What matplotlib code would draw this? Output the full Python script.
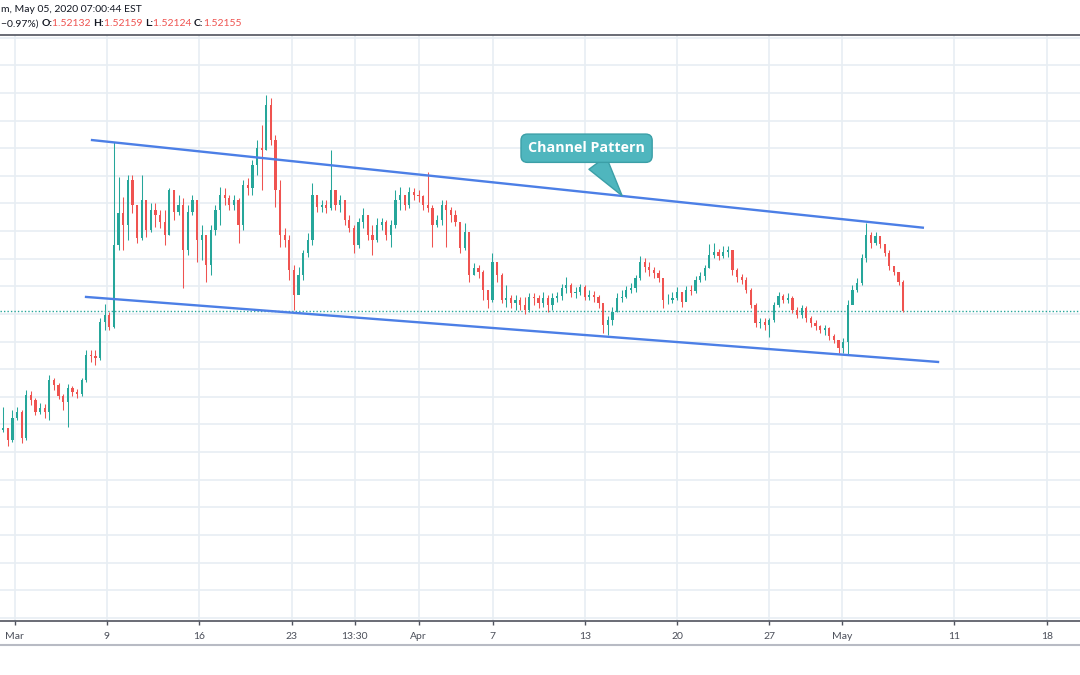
import matplotlib
matplotlib.use('Agg')
import matplotlib.pyplot as plt
import numpy as np
from matplotlib.lines import Line2D

# EURCAD 6h candles (open = previous close)
first_open = 1.5000
closes = [
    1.5004, 1.4982, 1.5022, 1.5033, 1.4986, 1.5063, 1.5054, 1.5033, 1.5040, 1.5033,
    1.5091, 1.5081, 1.5062, 1.5051, 1.5076, 1.5069, 1.5065, 1.5091, 1.5136, 1.5134,
    1.5130, 1.5195, 1.5208, 1.5186, 1.5335, 1.5393, 1.5371, 1.5452, 1.5407, 1.5348,
    1.5416, 1.5362, 1.5398, 1.5389, 1.5376, 1.5353, 1.5434, 1.5395, 1.5407, 1.5326,
    1.5395, 1.5416, 1.5344, 1.5353, 1.5299, 1.5362, 1.5398, 1.5425, 1.5420, 1.5407,
    1.5416, 1.5371, 1.5443, 1.5438, 1.5480, 1.5510, 1.5507, 1.5588, 1.5525, 1.5434,
    1.5353, 1.5344, 1.5290, 1.5244, 1.5281, 1.5320, 1.5344, 1.5425, 1.5404, 1.5407,
    1.5402, 1.5434, 1.5407, 1.5416, 1.5380, 1.5366, 1.5335, 1.5376, 1.5389, 1.5353,
    1.5344, 1.5371, 1.5376, 1.5353, 1.5371, 1.5416, 1.5425, 1.5407, 1.5431, 1.5425,
    1.5424, 1.5407, 1.5402, 1.5371, 1.5380, 1.5407, 1.5398, 1.5389, 1.5376, 1.5329,
    1.5358, 1.5281, 1.5293, 1.5286, 1.5253, 1.5235, 1.5304, 1.5281, 1.5235, 1.5239,
    1.5230, 1.5235, 1.5226, 1.5217, 1.5241, 1.5239, 1.5230, 1.5239, 1.5226, 1.5239,
    1.5243, 1.5257, 1.5262, 1.5248, 1.5250, 1.5259, 1.5241, 1.5244, 1.5241, 1.5230,
    1.5190, 1.5199, 1.5214, 1.5239, 1.5241, 1.5253, 1.5257, 1.5275, 1.5304, 1.5295,
    1.5290, 1.5284, 1.5275, 1.5235, 1.5235, 1.5239, 1.5250, 1.5232, 1.5253, 1.5252,
    1.5272, 1.5279, 1.5293, 1.5317, 1.5322, 1.5315, 1.5322, 1.5326, 1.5290, 1.5277,
    1.5272, 1.5253, 1.5226, 1.5194, 1.5195, 1.5190, 1.5199, 1.5226, 1.5243, 1.5235,
    1.5239, 1.5217, 1.5208, 1.5221, 1.5203, 1.5194, 1.5188, 1.5181, 1.5185, 1.5170,
    1.5163, 1.5148, 1.5159, 1.5226, 1.5253, 1.5266, 1.5311, 1.5353, 1.5338, 1.5351,
    1.5337, 1.5320, 1.5297, 1.5286, 1.5268, 1.52155]
highs = [
    1.5042, 1.5004, 1.5036, 1.5042, 1.5036, 1.5072, 1.5071, 1.5058, 1.5049, 1.5047,
    1.5100, 1.5094, 1.5085, 1.5065, 1.5083, 1.5080, 1.5074, 1.5094, 1.5145, 1.5145,
    1.5145, 1.5203, 1.5228, 1.5214, 1.5521, 1.5458, 1.5422, 1.5462, 1.5462, 1.5407,
    1.5462, 1.5416, 1.5411, 1.5411, 1.5398, 1.5398, 1.5438, 1.5434, 1.5425, 1.5420,
    1.5407, 1.5425, 1.5407, 1.5371, 1.5335, 1.5371, 1.5407, 1.5440, 1.5438, 1.5425,
    1.5425, 1.5420, 1.5452, 1.5456, 1.5489, 1.5525, 1.5552, 1.5606, 1.5601, 1.5534,
    1.5452, 1.5366, 1.5353, 1.5299, 1.5295, 1.5326, 1.5357, 1.5447, 1.5425, 1.5416,
    1.5416, 1.5507, 1.5425, 1.5425, 1.5416, 1.5389, 1.5371, 1.5384, 1.5402, 1.5389,
    1.5371, 1.5384, 1.5384, 1.5380, 1.5380, 1.5434, 1.5440, 1.5425, 1.5440, 1.5438,
    1.5434, 1.5425, 1.5467, 1.5407, 1.5389, 1.5416, 1.5416, 1.5404, 1.5398, 1.5371,
    1.5375, 1.5358, 1.5302, 1.5299, 1.5290, 1.5253, 1.5320, 1.5304, 1.5284, 1.5262,
    1.5244, 1.5244, 1.5241, 1.5241, 1.5248, 1.5248, 1.5244, 1.5250, 1.5244, 1.5248,
    1.5250, 1.5264, 1.5277, 1.5266, 1.5259, 1.5264, 1.5262, 1.5253, 1.5252, 1.5244,
    1.5226, 1.5206, 1.5223, 1.5248, 1.5253, 1.5261, 1.5266, 1.5281, 1.5315, 1.5311,
    1.5304, 1.5295, 1.5290, 1.5272, 1.5246, 1.5250, 1.5259, 1.5250, 1.5261, 1.5262,
    1.5279, 1.5286, 1.5299, 1.5337, 1.5338, 1.5328, 1.5333, 1.5333, 1.5326, 1.5293,
    1.5282, 1.5277, 1.5257, 1.5230, 1.5203, 1.5203, 1.5203, 1.5232, 1.5250, 1.5246,
    1.5248, 1.5243, 1.5223, 1.5226, 1.5224, 1.5206, 1.5199, 1.5190, 1.5190, 1.5186,
    1.5174, 1.5163, 1.5167, 1.5235, 1.5262, 1.5275, 1.5319, 1.5375, 1.5358, 1.5358,
    1.5348, 1.5333, 1.5326, 1.5297, 1.5286, 1.5272]
lows = [
    1.4996, 1.4971, 1.4978, 1.5018, 1.4976, 1.4982, 1.5045, 1.5027, 1.5029, 1.5022,
    1.5018, 1.5072, 1.5056, 1.5036, 1.5005, 1.5062, 1.5058, 1.5062, 1.5087, 1.5123,
    1.5118, 1.5127, 1.5181, 1.5181, 1.5185, 1.5326, 1.5326, 1.5344, 1.5393, 1.5338,
    1.5344, 1.5349, 1.5358, 1.5367, 1.5366, 1.5335, 1.5353, 1.5380, 1.5389, 1.5257,
    1.5317, 1.5389, 1.5304, 1.5308, 1.5268, 1.5281, 1.5353, 1.5371, 1.5407, 1.5398,
    1.5398, 1.5338, 1.5362, 1.5425, 1.5425, 1.5462, 1.5434, 1.5507, 1.5516, 1.5404,
    1.5331, 1.5331, 1.5272, 1.5217, 1.5253, 1.5272, 1.5313, 1.5335, 1.5395, 1.5395,
    1.5393, 1.5398, 1.5398, 1.5395, 1.5371, 1.5358, 1.5320, 1.5329, 1.5366, 1.5344,
    1.5317, 1.5340, 1.5362, 1.5344, 1.5331, 1.5366, 1.5398, 1.5398, 1.5402, 1.5416,
    1.5413, 1.5398, 1.5395, 1.5331, 1.5367, 1.5371, 1.5331, 1.5376, 1.5369, 1.5320,
    1.5326, 1.5268, 1.5281, 1.5275, 1.5235, 1.5221, 1.5232, 1.5268, 1.5230, 1.5223,
    1.5221, 1.5217, 1.5217, 1.5210, 1.5214, 1.5226, 1.5221, 1.5223, 1.5214, 1.5217,
    1.5232, 1.5235, 1.5248, 1.5241, 1.5239, 1.5244, 1.5235, 1.5235, 1.5232, 1.5221,
    1.5176, 1.5172, 1.5190, 1.5214, 1.5232, 1.5239, 1.5248, 1.5250, 1.5272, 1.5286,
    1.5279, 1.5275, 1.5268, 1.5221, 1.5228, 1.5230, 1.5235, 1.5223, 1.5235, 1.5244,
    1.5248, 1.5268, 1.5272, 1.5293, 1.5311, 1.5308, 1.5311, 1.5313, 1.5281, 1.5268,
    1.5264, 1.5248, 1.5221, 1.5186, 1.5185, 1.5181, 1.5168, 1.5195, 1.5223, 1.5230,
    1.5230, 1.5212, 1.5203, 1.5203, 1.5195, 1.5186, 1.5181, 1.5176, 1.5172, 1.5163,
    1.5158, 1.5139, 1.5139, 1.5136, 1.5235, 1.5250, 1.5262, 1.5304, 1.5329, 1.5335,
    1.5329, 1.5315, 1.5290, 1.5281, 1.5262, 1.5214]

# time axis (bar index of each label)
tick_pos = [2.5, 22.4, 42.4, 62.5, 76.2, 90.0, 106.1, 126.1, 146.0, 166.0, 181.8, 206.0, 226.1]
tick_labels = ['Mar', '9', '16', '23', '13:30', 'Apr', '7', '13', '20', '27', 'May', '11', '18']

# channel lines (bar index, price)
upper_line = ([19.0, 199.5], [1.5525, 1.5366])
lower_line = ([17.7, 202.8], [1.5241, 1.5123])
last_price = 1.52155

UP, DOWN = '#26a69a', '#ef5350'

plt.rcParams['font.family'] = ['Lato', 'DejaVu Sans']

fig = plt.figure(figsize=(10.8, 6.75), dpi=100)
ax = fig.add_axes([0, 1 - 621 / 675, 1, (621 - 35.3) / 675])

c = np.array(closes)
h = np.array(highs)
l = np.array(lows)
o = np.concatenate([[first_open], c[:-1]])
x = np.arange(len(c))
col = np.where(c >= o, UP, DOWN)

ax.vlines(x, l, h, colors=col, lw=0.75, zorder=3)
body = np.maximum(np.abs(c - o), 0.00008)
ax.bar(x, body, bottom=np.minimum(o, c), width=0.48, color=col, lw=0, zorder=3)

ax.axhline(last_price, color=UP, lw=1, ls=(0, (1, 1.5)), zorder=2)

ax.plot(*upper_line, color='#4c7fe6', lw=1.7, zorder=4, solid_capstyle='butt')
ax.plot(*lower_line, color='#4c7fe6', lw=1.7, zorder=4, solid_capstyle='butt')

ax.annotate('Channel Pattern', xy=(134.1, 1.5424), xytext=(126.4, 1.5510),
            ha='center', va='center', fontsize=10.3, fontweight='bold', color='white',
            family=['Open Sans', 'DejaVu Sans'], zorder=6,
            bbox=dict(boxstyle='round,pad=0.5,rounding_size=0.45', fc='#4fb6be', ec='#3b9fa7', lw=1),
            arrowprops=dict(arrowstyle='wedge,tail_width=1.5,shrink_factor=0.5',
                            fc='#4fb6be', ec='#3b9fa7', lw=1, shrinkA=0, shrinkB=0))

ax.set_xlim(-0.685, 233.3)
ax.set_ylim(1.46543, 1.57144)
ax.set_yticks(np.arange(1.4660, 1.5715, 0.005))
ax.set_xticks(tick_pos)
ax.set_xticklabels(tick_labels)
ax.grid(color='#e8eef3', lw=1.2, zorder=0)
ax.set_axisbelow(True)
ax.tick_params(axis='y', left=False, labelleft=False)
ax.tick_params(axis='x', length=3, width=1, color='#50535e', labelcolor='#4a4e59',
               labelsize=7.5, pad=5)
for s in ['left', 'right']:
    ax.spines[s].set_visible(False)
for s in ['top', 'bottom']:
    ax.spines[s].set_color('#50535e')
    ax.spines[s].set_linewidth(1.2)

fig.add_artist(Line2D([0, 1], [1 - 645 / 675] * 2, color='#b8bbc4', lw=1.5))

# header (left part is cut off in the screenshot)
fig.text(0.001, 1 - 10 / 675, 'm, May 05, 2020 07:00:44 EST', fontsize=7.5,
         color='#131722', va='center', ha='left')
pieces = [('\u22120.97%) ', '#131722'), ('O:', '#131722'), ('1.52132 ', DOWN),
          ('H:', '#131722'), ('1.52159 ', DOWN), ('L:', '#131722'), ('1.52124 ', DOWN),
          ('C:', '#131722'), ('1.52155', DOWN)]
prev = fig.text(0.001, 1 - 24 / 675, pieces[0][0], fontsize=7.5, color=pieces[0][1],
                va='center', ha='left')
for txt, clr in pieces[1:]:
    w = 'bold' if clr != DOWN else 'normal'
    prev = ax.annotate(txt, xy=(1, 0.5), xycoords=prev, va='center', ha='left',
                       fontsize=7.5, color=clr, fontweight=w, annotation_clip=False)

fig.savefig('out.png', dpi=100, facecolor='white')
